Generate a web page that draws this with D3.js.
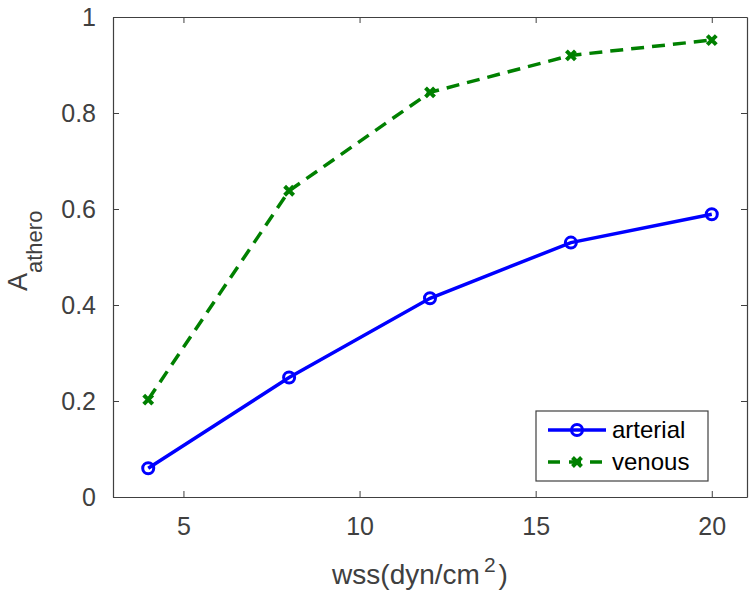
<!DOCTYPE html>
<html><head><meta charset="utf-8">
<script src="https://cdn.jsdelivr.net/npm/d3@7"></script>
<style>body{margin:0;background:#fff}svg{display:block}text{font-family:"Liberation Sans",Arial,sans-serif}</style>
</head><body>
<svg id="c" width="754" height="592"></svg>
<script>
const wss = [4, 8, 12, 16, 20];
const arterial = [0.06, 0.249, 0.414, 0.53, 0.589];
const venous = [0.203, 0.638, 0.843, 0.92, 0.952];
const xTicks = [5, 10, 15, 20];
const yTicks = [0, 0.2, 0.4, 0.6, 0.8, 1];
const seriesNames = ["arterial", "venous"];

const svg = d3.select("#c");
const L = 113, R = 747, T = 17, B = 497;
const x = d3.scaleLinear().domain([3, 21]).range([L, R]);
const y = d3.scaleLinear().domain([0, 1]).range([B, T]);
const axCol = "#404040";

svg.append("rect").attr("x", L).attr("y", T).attr("width", R - L).attr("height", B - T)
  .attr("fill", "#fff");

// axes
const gx = svg.append("g").attr("transform", `translate(0,${B})`)
  .call(d3.axisBottom(x).tickValues(xTicks).tickSizeInner(-6).tickSizeOuter(0).tickPadding(20).tickFormat(d3.format("d")));
const gxt = svg.append("g").attr("transform", `translate(0,${T})`)
  .call(d3.axisTop(x).tickValues(xTicks).tickSizeInner(-6).tickSizeOuter(0).tickFormat(""));
const gy = svg.append("g").attr("transform", `translate(${L},0)`)
  .call(d3.axisLeft(y).tickValues(yTicks).tickSizeInner(-6).tickSizeOuter(0).tickPadding(17).tickFormat(d => d === 0 || d === 1 ? d3.format("d")(d) : d3.format(".1f")(d)));
const gyr = svg.append("g").attr("transform", `translate(${R},0)`)
  .call(d3.axisRight(y).tickValues(yTicks).tickSizeInner(-6).tickSizeOuter(0).tickFormat(""));
[gx, gxt, gy, gyr].forEach(g => {
  g.select(".domain").attr("stroke", axCol).attr("stroke-width", 1.2);
  g.selectAll(".tick line").attr("stroke", axCol).attr("stroke-width", 1);
  g.selectAll(".tick text").attr("fill", axCol).attr("font-size", 25);
});

// series
const line = d3.line().x(d => x(d[0])).y(d => y(d[1]));
const artPts = wss.map((w, i) => [w, arterial[i]]);
const venPts = wss.map((w, i) => [w, venous[i]]);

svg.append("path").datum(venPts).attr("d", line).attr("fill", "none")
  .attr("stroke", "#008000").attr("stroke-width", 3.5).attr("stroke-dasharray", "13,8");
svg.append("path").datum(artPts).attr("d", line).attr("fill", "none")
  .attr("stroke", "#0000ff").attr("stroke-width", 3.5);

function xMark(g, cx, cy, s) {
  g.append("path").attr("d", `M${cx - s},${cy - s}L${cx + s},${cy + s}M${cx - s},${cy + s}L${cx + s},${cy - s}`)
    .attr("stroke", "#008000").attr("stroke-width", 4).attr("fill", "none");
}
svg.append("g").selectAll("circle").data(artPts).join("circle")
  .attr("cx", d => x(d[0])).attr("cy", d => y(d[1])).attr("r", 5.5)
  .attr("fill", "none").attr("stroke", "#0000ff").attr("stroke-width", 3);
const vg = svg.append("g");
venPts.forEach(d => xMark(vg, x(d[0]), y(d[1]), 4.5));

// legend
const lg = svg.append("g");
lg.append("rect").attr("x", 536).attr("y", 411).attr("width", 172).attr("height", 70)
  .attr("fill", "#fff").attr("stroke", axCol).attr("stroke-width", 1.2);
lg.append("line").attr("x1", 548).attr("x2", 606).attr("y1", 430).attr("y2", 430)
  .attr("stroke", "#0000ff").attr("stroke-width", 3.5);
lg.append("circle").attr("cx", 577).attr("cy", 430).attr("r", 5.5).attr("fill", "none")
  .attr("stroke", "#0000ff").attr("stroke-width", 3);
lg.append("line").attr("x1", 548).attr("x2", 606).attr("y1", 462).attr("y2", 462)
  .attr("stroke", "#008000").attr("stroke-width", 3.5).attr("stroke-dasharray", "12,9");
xMark(lg, 577, 462, 4.5);
lg.selectAll("text.lt").data(seriesNames).join("text").attr("class", "lt")
  .attr("x", 612).attr("y", (d, i) => 430 + i * 32).attr("dy", "0.35em")
  .attr("font-size", 24).attr("fill", "#000").text(d => d);

// labels
const xl = svg.append("text").attr("x", (L + R) / 2 - 10).attr("y", 584).attr("text-anchor", "middle")
  .attr("font-size", 28).attr("fill", axCol);
xl.append("tspan").text("wss(dyn/cm");
xl.append("tspan").attr("dx", 4).attr("dy", -12).attr("font-size", 21).text("2");
xl.append("tspan").attr("dx", 3).attr("dy", 12).text(")");

const yl = svg.append("text").attr("transform", `translate(27,291) rotate(-90)`)
  .attr("text-anchor", "start").attr("font-size", 27).attr("fill", axCol);
yl.append("tspan").text("A");
yl.append("tspan").attr("dy", 15).attr("font-size", 22).text("athero");
</script>
</body></html>
